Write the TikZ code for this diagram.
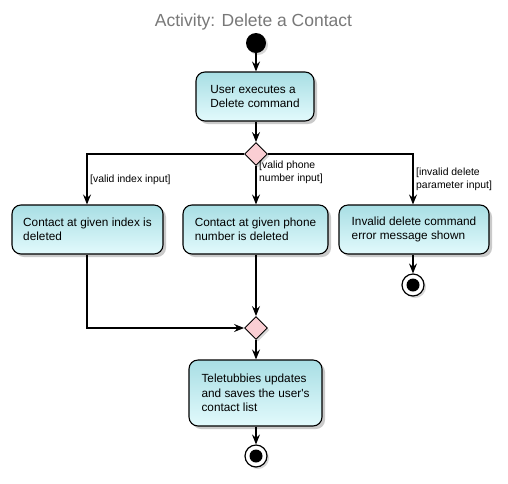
\documentclass[tikz,border=0pt]{standalone}
\usepackage{fontspec}
\setmainfont{Liberation Sans}
\usetikzlibrary{shapes.geometric,shadows,arrows.meta}
\definecolor{boxtop}{RGB}{168,222,228}
\definecolor{boxbot}{RGB}{226,250,252}
\definecolor{dia}{RGB}{250,206,211}
\definecolor{ttl}{RGB}{120,120,120}
\tikzset{
  act/.style={draw=black, line width=1.1pt, rounded corners=9pt, top color=boxtop, bottom color=boxbot,
    drop shadow={shadow xshift=3pt, shadow yshift=-3pt, fill=black!35, opacity=0.6},
    font=\fontsize{11.8}{14.5}\selectfont, align=left, inner sep=0pt},
  dec/.style={draw=black, line width=0.9pt, fill=dia, diamond, minimum width=23pt, minimum height=23pt, inner sep=0pt,
    drop shadow={shadow xshift=2pt, shadow yshift=-2pt, fill=black!30, opacity=0.5}},
  conn/.style={line width=1.1pt, -{Stealth[length=10pt,width=8pt,inset=3.5pt]}},
  lbl/.style={font=\fontsize{10.4}{13}\selectfont, align=left, inner sep=0pt, anchor=north west},
}
\begin{document}
\begin{tikzpicture}[x=1pt,y=-1pt]
\useasboundingbox (0,0) rectangle (508,483);
\node[text=ttl, font=\fontsize{17.5}{20}\selectfont] (title) at (253.5,22) {Activity: Delete a Contact};
\node[circle, fill=black, minimum size=20pt, inner sep=0pt,
  drop shadow={shadow xshift=2pt, shadow yshift=-2pt, fill=black!30, opacity=0.5}] (start) at (256,43) {};
\node[act, minimum width=118pt, minimum height=49pt] (a1) at (255,96.5) {User executes a\\Delete command};
\node[dec] (d1) at (256,154) {};
\node[act, minimum width=151pt, minimum height=49pt] (a2) at (87.5,229.5) {Contact at given index is\\deleted};
\node[act, minimum width=145pt, minimum height=49pt] (a3) at (255.5,229.5) {Contact at given phone\\number is deleted};
\node[act, minimum width=150pt, minimum height=49pt] (a4) at (414,229.5) {Invalid delete command\\error message shown};
\coordinate (cl) at (87,154);
\coordinate (cr) at (413,154);
\coordinate (bl) at (87,328);
\node[circle, draw=black, line width=1.2pt, fill=white, minimum size=22pt, inner sep=0pt,
  drop shadow={shadow xshift=2pt, shadow yshift=-2pt, fill=black!30, opacity=0.5}] (e1) at (413,285) {};
\fill (e1) circle (6.5pt);
\node[dec] (d2) at (256,328) {};
\node[act, minimum width=133pt, minimum height=66pt] (a5) at (255.5,393) {Teletubbies updates\\and saves the user\textquotesingle s\\contact list};
\node[circle, draw=black, line width=1.2pt, fill=white, minimum size=22pt, inner sep=0pt,
  drop shadow={shadow xshift=2pt, shadow yshift=-2pt, fill=black!30, opacity=0.5}] (e2) at (256,456) {};
\fill (e2) circle (6.5pt);

\draw[conn] (start) -- (a1.north -| start);
\draw[conn] (a1.south -| d1) -- (d1.north);
\draw[conn] (d1.west) -- (cl) -- (a2.north -| cl);
\draw[conn] (d1.south) -- (a3.north -| d1);
\draw[conn] (d1.east) -- (cr) -- (a4.north -| cr);
\draw[conn] (a4.south -| e1) -- (e1.north);
\draw[conn] (a2.south -| bl) -- (bl) -- (d2.west);
\draw[conn] (a3.south -| d2) -- (d2.north);
\draw[conn] (d2.south) -- (a5.north -| d2);
\draw[conn] (a5.south -| e2) -- (e2.north);

\node[lbl] (l1) at (90,175) {[valid index input]};
\node[lbl] (l2) at (259,161) {[valid phone\\number input]};
\node[lbl] (l3) at (416,168) {[invalid delete\\parameter input]};
\end{tikzpicture}
\end{document}
